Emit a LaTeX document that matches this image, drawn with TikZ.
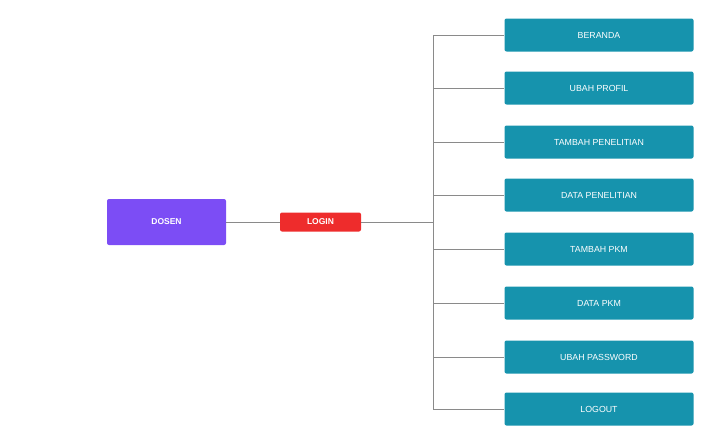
\documentclass[tikz,border=0pt]{standalone}
\usepackage{fontspec}
\setmainfont{Liberation Sans}
\usepackage{tikz}
\usetikzlibrary{calc}

\definecolor{dosenpurple}{HTML}{7C4DF5}
\definecolor{loginred}{HTML}{EE2C2C}
\definecolor{menuteal}{HTML}{1693AD}
\definecolor{linegray}{HTML}{8A8A8A}

\begin{document}
\begin{tikzpicture}[x=1pt,y=-1pt,
	actor/.style={fill=dosenpurple,rounded corners=2pt,minimum width=119pt,minimum height=46pt,text=white,font=\bfseries\fontsize{8.5}{8.5}\selectfont,inner sep=0pt},
	entry/.style={fill=loginred,rounded corners=2pt,minimum width=81pt,minimum height=19pt,text=white,font=\bfseries\fontsize{8.5}{8.5}\selectfont,inner sep=0pt},
	menu/.style={fill=menuteal,rounded corners=2pt,minimum width=189pt,minimum height=33pt,text=white,font=\fontsize{8.8}{8.8}\selectfont,inner sep=0pt},
	link/.style={draw=linegray,line width=0.8pt}]
\useasboundingbox (0,0) rectangle (708,426);
		\coordinate (D) at (166.5,222);
		\coordinate (L) at (320.5,222);
		\coordinate (T) at (433,222);
		\coordinate (T1) at (433,35);
		\coordinate (T8) at (433,409);
		\node[actor] (dosen) at (D) {DOSEN};
		\node[entry] (login) at (L) {LOGIN};
		\node[menu] (m1) at (599,35) {BERANDA};
		\node[menu] (m2) at (599,88) {UBAH PROFIL};
		\node[menu] (m3) at (599,142) {TAMBAH PENELITIAN};
		\node[menu] (m4) at (599,195) {DATA PENELITIAN};
		\node[menu] (m5) at (599,249) {TAMBAH PKM};
		\node[menu] (m6) at (599,303) {DATA PKM};
		\node[menu] (m7) at (599,357) {UBAH PASSWORD};
		\node[menu] (m8) at (599,409) {LOGOUT};
		\draw[link] (dosen) -- (login);
		\draw[link] (login) -- (T);
		\draw[link] (T1) -- (T8);
		\draw[link] (T1) -- (m1.west);
		\draw[link] (m2.west -| T) -- (m2.west);
		\draw[link] (m3.west -| T) -- (m3.west);
		\draw[link] (m4.west -| T) -- (m4.west);
		\draw[link] (m5.west -| T) -- (m5.west);
		\draw[link] (m6.west -| T) -- (m6.west);
		\draw[link] (m7.west -| T) -- (m7.west);
		\draw[link] (T8) -- (m8.west);
\end{tikzpicture}
\end{document}
